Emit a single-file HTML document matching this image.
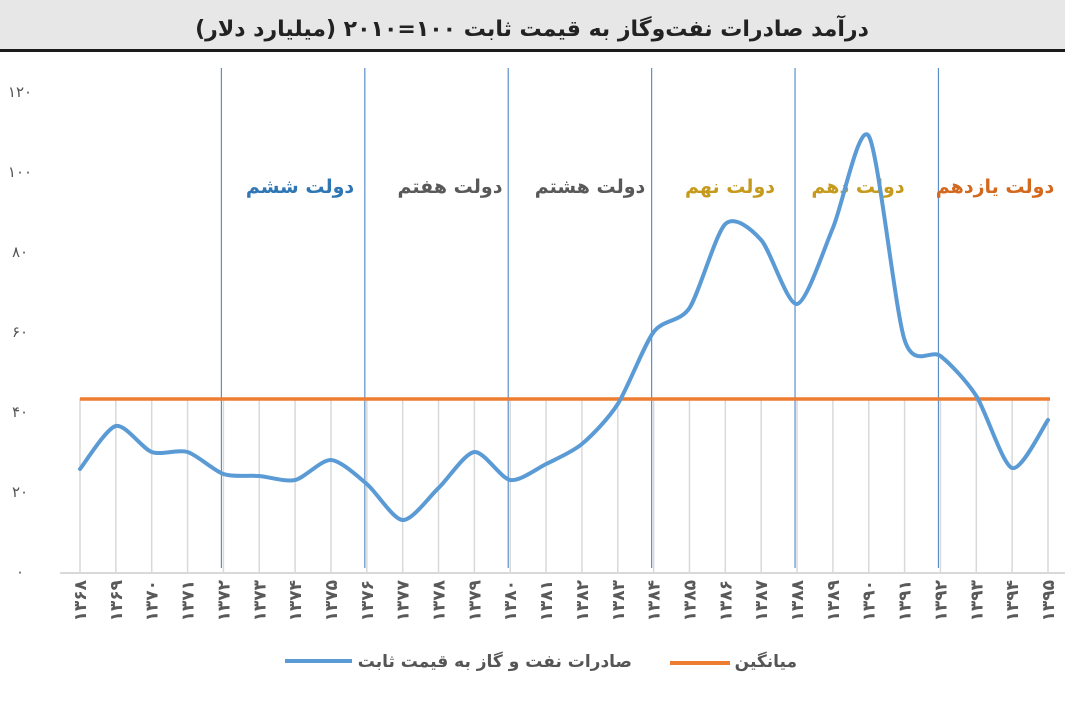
<!DOCTYPE html>
<html><head><meta charset="utf-8"><style>
body{margin:0;width:1065px;height:711px;background:#fff;overflow:hidden;font-family:"Liberation Sans","Noto Sans CJK SC","DejaVu Sans",sans-serif}
</style></head><body>
<svg id="s" width="1065" height="711" xmlns="http://www.w3.org/2000/svg" font-family="'DejaVu Sans','Liberation Sans',sans-serif">
<rect x="0" y="0" width="1065" height="50" fill="#e7e7e8"/>
<rect x="0" y="49" width="1065" height="3" fill="#1a1a1a"/>
<text x="532" y="36" text-anchor="middle" font-size="22" font-weight="bold" fill="#222" direction="rtl">درآمد صادرات نفت‌وگاز به قیمت ثابت ۱۰۰=۲۰۱۰ (میلیارد دلار)</text>
<g id="g"></g>
</svg>
<script>
const ns="http://www.w3.org/2000/svg",g=document.getElementById('g');
function el(t,a,txt){const e=document.createElementNS(ns,t);for(const k in a)e.setAttribute(k,a[k]);if(txt!==undefined)e.textContent=txt;g.appendChild(e);return e;}
const fa=n=>String(n).replace(/\d/g,d=>'۰۱۲۳۴۵۶۷۸۹'[d]);
const X=i=>80+i*(1048-80)/27, Y=v=>572-v*4;
for(let i=0;i<28;i++) el('line',{x1:X(i),x2:X(i),y1:398,y2:572,stroke:'#d9d9d9','stroke-width':1.5});
for(let v=0;v<=120;v+=20) el('text',{x:20,y:Y(v)+5,'text-anchor':'middle','font-size':15,fill:'#555'},fa(v));
el('line',{x1:60,x2:1065,y1:573,y2:573,stroke:'#d9d9d9','stroke-width':2});
[4,8,12,16,20,24].forEach(i=>el('line',{x1:X(i)-2,x2:X(i)-2,y1:68,y2:568,stroke:'#5b8fc9','stroke-width':1.2}));
[[300,'دولت ششم','#2f76b5'],[450,'دولت هفتم','#595959'],[590,'دولت هشتم','#595959'],[730,'دولت نهم','#c59a1d'],[858,'دولت دهم','#c59a1d'],[995,'دولت یازدهم','#d2691e']].forEach(a=>el('text',{x:a[0],y:193,'text-anchor':'middle','font-size':19,'font-weight':'bold',fill:a[2],direction:'rtl'},a[1]));
el('line',{x1:80,x2:1050,y1:399,y2:399,stroke:'#ed7d31','stroke-width':3.5});
const d=[25.75,36.5,30,30,24.5,24,23,28,22,13,21,30,23,27,32,42,60,66,87,83,67,86,109,58,54,44,26,38];
const p=d.map((v,i)=>[X(i),Y(v)]);
let s='M'+p[0];const t=7.5;
for(let i=0;i<p.length-1;i++){const p0=p[i-1]||p[i],p1=p[i],p2=p[i+1],p3=p[i+2]||p2;
s+=` C${p1[0]+(p2[0]-p0[0])/t},${p1[1]+(p2[1]-p0[1])/t} ${p2[0]-(p3[0]-p1[0])/t},${p2[1]-(p3[1]-p1[1])/t} ${p2[0]},${p2[1]}`;}
el('path',{d:s,fill:'none',stroke:'#5b9bd5','stroke-width':4,'stroke-linecap':'round'});
for(let i=0;i<28;i++){const x=X(i)+6;el('text',{x:x,y:580,transform:`rotate(-90 ${x} 580)`,'text-anchor':'end','font-size':17,'font-weight':'bold',fill:'#595959'},fa(1368+i));}
el('line',{x1:285,x2:352,y1:661,y2:661,stroke:'#5b9bd5','stroke-width':4});
el('text',{x:632,y:667,'text-anchor':'end','font-size':17,'font-weight':'bold',fill:'#555',direction:'ltr'},'صادرات نفت و گاز به قیمت ثابت');
el('line',{x1:670,x2:730,y1:663,y2:663,stroke:'#ed7d31','stroke-width':4});
el('text',{x:797,y:667,'text-anchor':'end','font-size':17,'font-weight':'bold',fill:'#555',direction:'ltr'},'میانگین');
</script>
</body></html>
